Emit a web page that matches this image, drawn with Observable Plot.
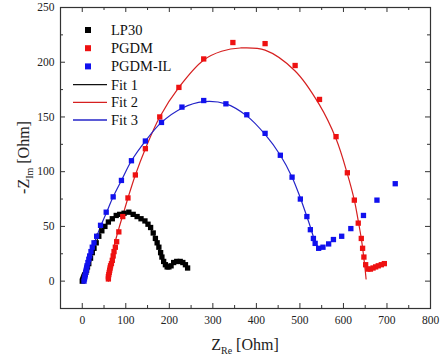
<!DOCTYPE html>
<html><head><meta charset="utf-8">
<script src="https://cdn.jsdelivr.net/npm/d3@7"></script>
<script src="https://cdn.jsdelivr.net/npm/@observablehq/plot@0.6"></script>
<style>html,body{margin:0;padding:0;background:#fff} svg{display:block}</style>
</head><body><div id="chart"></div>
<script>
// ---- data ----
const lp30Re = [0,1,2,3,4,5,6,8,10,12,15,19,23,27,32,38,45,52,60,69,78,86,96,107,117,126,135,144,151,157,163,168,172,176,180,183,187,191,195,199,204,210,217,225,231,237,242];
const lp30Im = [0,1,2,3,4,5,6,8,10,13,16,21,26,30,35,41,46,50,54,57,60,61,62,63,61,59,57,55,52,49,44,39,35,31,26,22,18,15,13,13,14,17,18,18,17,15,12];

const pgdmRe = [60,60,61,62,63,64,65,67,69,71,73,76,79,84,93,105,122,145,178,222,279,346,420,489,545,583,609,625,634,641,644,647,651,656,662,668,674,680,687,694];
const pgdmIm = [2,4,6,8,10,12,14,16,19,23,27,31,36,45,59,76,97,121,150,177,203,218,217,197,166,132,99,74,53,39,30,22,15,11,11,12,13,14,15,16];

const ilRe = [4,5,6,7,8,9,10,11,13,15,17,20,23,27,33,42,55,71,90,113,145,182,229,279,330,378,420,455,482,501,516,524,531,535,543,553,566,577,596,617,646,677,719];
const ilIm = [0,2,4,6,8,10,12,14,17,20,23,27,31,35,41,51,63,77,92,110,128,145,159,165,162,152,135,115,95,75,59,47,39,34.5,30,31,34,38,41,48,60,74,89];

const fit1Re = [0,5,12,20,30,42,55,70,86,105,126,144,157,168,176,183,190];
const fit1Im = [0,5,12,22,33,45,52,58,61,62,59,54,48,39,30,22,14];

const fit2Re = [60,63,68,75,84,93,105,122,145,178,222,279,320,363,420,489,545,583,609,625,634,641,646,650,652];
const fit2Im = [0,10,22,35,48,60,76,97,121,150,177,202,210,213,211,192,161,130,98,74,55,39,24,10,2];

const fit3Re = [2,8,15,25,40,55,71,90,113,145,182,229,279,330,378,420,455,482,501,516,526,533,540,548];
const fit3Im = [0,10,20,32,48,62,77,92,110,128,145,158,164,162,151,134,115,95,76,59,47,38,32,29];

const xTicks = [0,100,200,300,400,500,600,700,800];
const xMinor = [50,150,250,350,450,550,650,750];
const yTicks = [0,50,100,150,200,250];
const yMinor = [-25,25,75,125,175,225];

const seriesNames = ["LP30","PGDM","PGDM-IL"];
const fitNames = ["Fit 1","Fit 2","Fit 3"];
const pointColors = ["#000000","#ee1111","#1111ee"];
const lineColors = ["#111111","#d62020","#2424c8"];

const zip = (a,b) => a.map((v,i) => ({x:v, y:b[i]}));
const lp30 = zip(lp30Re, lp30Im), pgdm = zip(pgdmRe, pgdmIm), il = zip(ilRe, ilIm);
const fit1 = zip(fit1Re, fit1Im), fit2 = zip(fit2Re, fit2Im), fit3 = zip(fit3Re, fit3Im);

// ---- layout ----
const W = 441, H = 358, mL = 60, mR = 11, mT = 7, mB = 50;
const pW = W - mL - mR, pH = H - mT - mB;
const serif = "'Liberation Serif', 'Times New Roman', serif";
const axisCol = "#333";

const chart = Plot.plot({
  width: W, height: H,
  marginLeft: mL, marginRight: mR, marginTop: mT, marginBottom: mB,
  style: {fontFamily: serif, fontSize: "11.5px", background: "#fff", color: "#222"},
  x: {domain: [-50, 800]},
  y: {domain: [-25, 250]},
  marks: [
    Plot.tickX(xTicks, {x: d => d, insetTop: pH - 5, stroke: axisCol}),
    Plot.tickX(xTicks, {x: d => d, insetBottom: pH - 5, stroke: axisCol}),
    Plot.tickX(xMinor, {x: d => d, insetTop: pH - 3, stroke: axisCol}),
    Plot.tickX(xMinor, {x: d => d, insetBottom: pH - 3, stroke: axisCol}),
    Plot.tickY(yTicks, {y: d => d, insetRight: pW - 5, stroke: axisCol}),
    Plot.tickY(yTicks, {y: d => d, insetLeft: pW - 5, stroke: axisCol}),
    Plot.tickY(yMinor, {y: d => d, insetRight: pW - 3, stroke: axisCol}),
    Plot.tickY(yMinor, {y: d => d, insetLeft: pW - 3, stroke: axisCol}),
    Plot.axisX(xTicks, {tickSize: 0, tickPadding: 7, label: null, fontSize: 11.5}),
    Plot.axisY(yTicks, {tickSize: 0, tickPadding: 6, label: null, fontSize: 11.5}),
    Plot.frame({stroke: axisCol, strokeWidth: 1.2}),
    Plot.line(fit1, {x: "x", y: "y", stroke: lineColors[0], strokeWidth: 1.2, curve: "catmull-rom"}),
    Plot.line(fit2, {x: "x", y: "y", stroke: lineColors[1], strokeWidth: 1.2, curve: "catmull-rom"}),
    Plot.line(fit3, {x: "x", y: "y", stroke: lineColors[2], strokeWidth: 1.2, curve: "catmull-rom"}),
    Plot.dot(lp30, {x: "x", y: "y", symbol: "square", r: 3, fill: pointColors[0], stroke: null}),
    Plot.dot(pgdm, {x: "x", y: "y", symbol: "square", r: 3, fill: pointColors[1], stroke: null}),
    Plot.dot(il, {x: "x", y: "y", symbol: "square", r: 3, fill: pointColors[2], stroke: null})
  ]
});

const svg = d3.select(chart);

// legend
const lg = svg.append("g").attr("font-family", serif).attr("font-size", 14.5).attr("fill", "#111")
  .attr("text-anchor", "start");
seriesNames.forEach((name, i) => {
  const cy = 30 + i * 18.2;
  lg.append("rect").attr("x", 85).attr("y", cy - 3).attr("width", 6).attr("height", 6).attr("fill", pointColors[i]);
  lg.append("text").attr("x", 111).attr("y", cy + 5).attr("text-anchor", "start").text(name);
});
fitNames.forEach((name, i) => {
  const cy = 84.6 + i * 17.7;
  lg.append("line").attr("x1", 73).attr("x2", 107).attr("y1", cy).attr("y2", cy)
    .attr("stroke", lineColors[i]).attr("stroke-width", 1.3);
  lg.append("text").attr("x", 111).attr("y", cy + 5).attr("text-anchor", "start").text(name);
});

// axis labels with subscripts
const xl = svg.append("text").attr("x", mL + pW / 2).attr("y", 350).attr("text-anchor", "middle")
  .attr("font-family", serif).attr("font-size", 16).attr("fill", "#222");
xl.append("tspan").text("Z");
xl.append("tspan").attr("font-size", 10).attr("dy", 4).text("Re");
xl.append("tspan").attr("dy", -4).text(" [Ohm]");

const yl = svg.append("text").attr("transform", `translate(29,${mT + pH / 2}) rotate(-90)`).attr("text-anchor", "middle")
  .attr("font-family", serif).attr("font-size", 16).attr("fill", "#222");
yl.append("tspan").text("-Z");
yl.append("tspan").attr("font-size", 10).attr("dy", 4).text("Im");
yl.append("tspan").attr("dy", -4).text(" [Ohm]");

document.getElementById("chart").appendChild(chart);
</script>
</body></html>
